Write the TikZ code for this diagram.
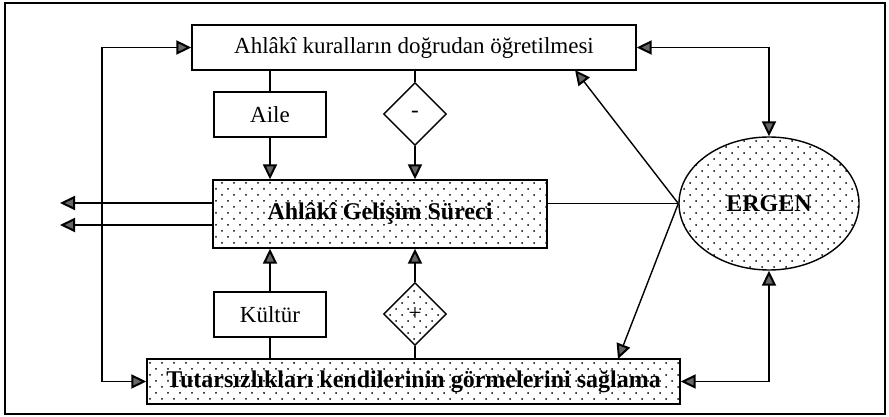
\documentclass[tikz,border=0pt]{standalone}
\usepackage{fontspec}
\setmainfont{Liberation Serif}
\usetikzlibrary{shapes.geometric,arrows.meta,patterns.meta}

\tikzdeclarepattern{
  name=sparsedots,
  bottom left={(-1pt,-1pt)},
  top right={(11pt,11pt)},
  tile size={(12pt,12pt)},
  code={\fill (0pt,0pt) circle (1pt); \fill (6pt,6pt) circle (1pt);}
}

\tikzset{
  box/.style={draw, line width=1.4pt, inner sep=0pt, font=\fontsize{23}{27}\selectfont},
  dotbox/.style={box, pattern=sparsedots, font=\fontsize{24}{28}\selectfont\bfseries},
  sign/.style={draw, line width=1.4pt, diamond, aspect=1, minimum size=63pt, inner sep=0pt, font=\fontsize{23}{27}\selectfont},
  tipend/.tip={Triangle[length=15pt,width=14pt,fill=black!60,line width=2pt]},
  tip/.style={line width=1.4pt, -tipend},
  tips/.style={line width=1.4pt, tipend-tipend},
  link/.style={line width=1.4pt}
}

\begin{document}
\begin{tikzpicture}[x=1pt,y=-1pt]
        \useasboundingbox (0,0) rectangle (889,417);
        \draw[line width=1.4pt] (5,3) rectangle (885,414);

        \node[box, minimum width=444pt, minimum height=45pt] (kural) at (414,47.5) {Ahlâkî kuralların doğrudan öğretilmesi};
        \node[dotbox, minimum width=334pt, minimum height=68pt] (surec) at (380,214) {Ahlâkî Gelişim Süreci};
        \node[dotbox, minimum width=533pt, minimum height=45pt] (tutar) at (413.5,381.5) {Tutarsızlıkları kendilerinin görmelerini sağlama};
        \node[box, minimum width=112pt, minimum height=45pt] (aile) at (270,114.5) {Aile};
        \node[box, minimum width=112pt, minimum height=45pt] (kultur) at (270,314.5) {Kültür};
        \node[sign] (eksi) at (415,114) {-};
        \node[sign, pattern=sparsedots] (arti) at (415,314) {+};
        \node[ellipse, draw, line width=1.4pt, pattern=sparsedots, minimum width=180pt, minimum height=133pt,
              inner sep=0pt, font=\fontsize{24}{28}\selectfont\bfseries] (ergen) at (769,203.5) {ERGEN};

        % free ends
        \coordinate (cikis1) at (60,203);
        \coordinate (cikis2) at (60,225);
        \coordinate (solust) at (102,47.5);
        \coordinate (solalt) at (102,381.5);
        \coordinate (kuralucu) at (575,70);
        \coordinate (tutarucu) at (618,359);

        \draw[link] (aile.north) -- (aile.north |- kural.south);
        \draw[tip] (aile.south) -- (aile.south |- surec.north);
        \draw[link] (eksi.north) -- (eksi.north |- kural.south);
        \draw[tip] (eksi.south) -- (eksi.south |- surec.north);
        \draw[link] (kultur.south) -- (kultur.south |- tutar.north);
        \draw[tip] (kultur.north) -- (kultur.north |- surec.south);
        \draw[link] (arti.south) -- (arti.south |- tutar.north);
        \draw[tip] (arti.north) -- (arti.north |- surec.south);

        \draw[tip] (surec.west |- cikis1) -- (cikis1);
        \draw[tip] (surec.west |- cikis2) -- (cikis2);
        \draw[tips] (kural.west) -- (solust) -- (solalt) -- (tutar.west);

        \draw[tips] (kural.east) -| (ergen.north);
        \draw[tips] (tutar.east) -| (ergen.south);
        \draw[link] (surec.east |- ergen.west) -- (ergen.west);
        \draw[tip] (ergen.west) -- (kuralucu);
        \draw[tip] (ergen.west) -- (tutarucu);
\end{tikzpicture}
\end{document}
